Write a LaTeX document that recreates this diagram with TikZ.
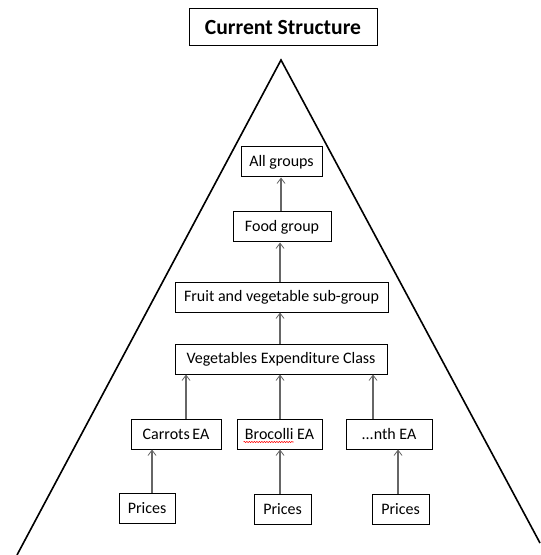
\documentclass[tikz,border=0pt]{standalone}
\usepackage{fontspec}
\setmainfont{Carlito}
\usetikzlibrary{arrows.meta,decorations.pathmorphing}
\newdimen\px \px=0.75pt
\begin{document}
\begin{tikzpicture}[x=0.75pt,y=-0.75pt,
  box/.style={draw=black,line width=0.75pt,rectangle,inner sep=0pt,minimum height=30\px,font=\fontsize{12}{14}\selectfont},
  arr/.style={draw=gray!80!black,line width=0.8pt,-{Straight Barb[length=4pt,width=6pt,line width=0.6pt]}},
  tri/.style={draw=black,line width=1.2pt}]
\useasboundingbox (0,0) rectangle (540,555);
\node[box,minimum width=188\px,minimum height=37\px,font=\fontsize{16.2}{19}\selectfont\bfseries] (title) at (283,27.5) {Current Structure};
\coordinate (apex) at (281,60);
\coordinate (bl) at (17,555);
\coordinate (br) at (540,543);
\draw[tri] (bl) -- (apex) -- (br);
\node[box,minimum width=81\px] (all) at (281.5,162) {All groups};
\node[box,minimum width=98\px] (food) at (282,227) {Food group};
\node[box,minimum width=213\px] (fruit) at (281.5,297) {Fruit and vegetable sub-group};
\node[box,minimum width=212\px] (veg) at (281,359) {Vegetables Expenditure Class};
\node[box,minimum width=90\px] (carrots) at (176,434) {Carrots\,EA};
\node[box,minimum width=85\px] (broc) at (279.5,434) {Brocolli EA};
\node[box,minimum width=86\px] (nth) at (389,434) {...nth EA};
\node[box,minimum width=56\px] (p1) at (147,508) {Prices};
\node[box,minimum width=57\px] (p2) at (282.5,509) {Prices};
\node[box,minimum width=57\px] (p3) at (400.5,509) {Prices};
\draw[arr] ([xshift=-1\px]food.north) -- ([xshift=-1\px]food.north |- all.south);
\draw[arr] ([xshift=-2\px]fruit.north -| food.north) -- ([xshift=-2\px]food.south);
\draw[arr] ([xshift=-1\px]veg.north) -- ([xshift=-1\px]veg.north |- fruit.south);
\draw[arr] ([xshift=10\px]carrots.north) -- ([xshift=10\px]carrots.north |- veg.south);
\draw[arr] ([xshift=0.5\px]broc.north) -- ([xshift=0.5\px]broc.north |- veg.south);
\draw[arr] ([xshift=-16\px]nth.north) -- ([xshift=-16\px]nth.north |- veg.south);
\draw[arr] ([xshift=5\px]p1.north) -- ([xshift=5\px]p1.north |- carrots.south);
\draw[arr] ([xshift=-2.5\px]p2.north) -- ([xshift=-2.5\px]p2.north |- broc.south);
\draw[arr] ([xshift=-2.5\px]p3.north) -- ([xshift=-2.5\px]p3.north |- nth.south);
\draw[red,line width=0.4pt,decorate,decoration={snake,segment length=2.5\px,amplitude=0.6\px}] ([xshift=-36\px,yshift=-8\px]broc.center) -- ([xshift=14\px,yshift=-8\px]broc.center);
\end{tikzpicture}
\end{document}
